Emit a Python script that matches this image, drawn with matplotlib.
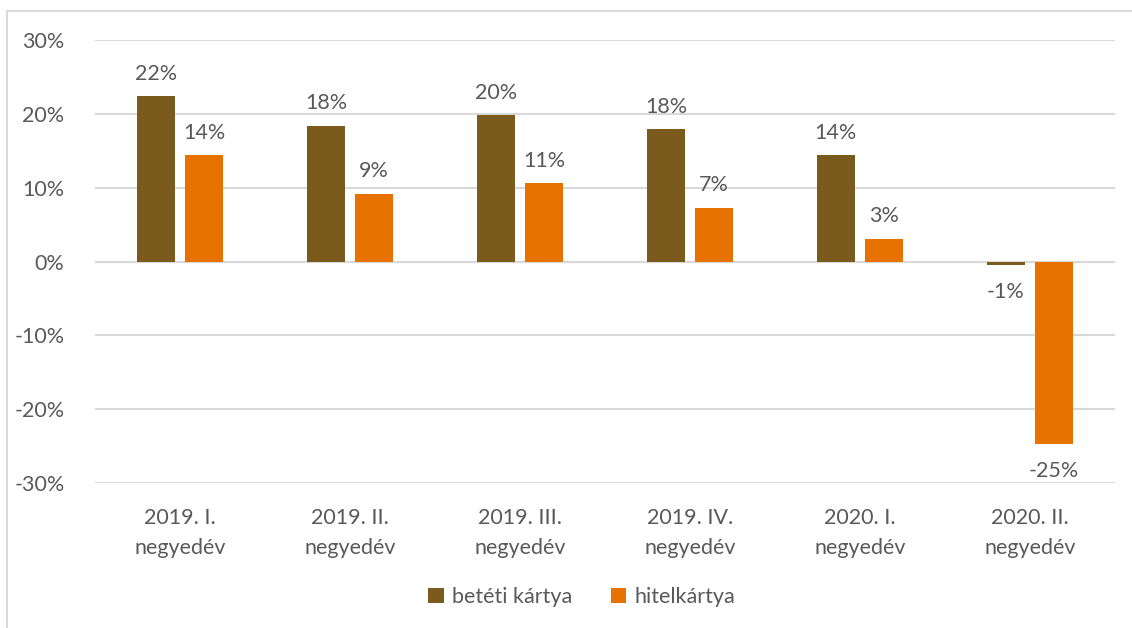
import matplotlib.pyplot as plt
from matplotlib.patches import Rectangle
import numpy as np

categories = ["2019. I.\nnegyedév", "2019. II.\nnegyedév", "2019. III.\nnegyedév",
              "2019. IV.\nnegyedév", "2020. I.\nnegyedév", "2020. II.\nnegyedév"]
beteti = [22.4, 18.4, 19.8, 17.9, 14.4, -0.5]
hitel = [14.4, 9.2, 10.6, 7.3, 3.1, -24.7]
beteti_labels = ["22%", "18%", "20%", "18%", "14%", "-1%"]
hitel_labels = ["14%", "9%", "11%", "7%", "3%", "-25%"]

BROWN = "#7B5A1E"
ORANGE = "#E87200"
TEXT = "#595959"
GRID = "#D9D9D9"

plt.rcParams['font.family'] = ['Lato', 'DejaVu Sans']

fig = plt.figure(figsize=(11.32, 6.28), dpi=100)
ax = fig.add_axes([95/1132, 1-483/628, (1115-95)/1132, (483-40)/628])

#outer chart border
fig.patches.append(Rectangle((7/1132, -0.1), 1.2, 1-11/628+0.1, transform=fig.transFigure,
                             fill=False, edgecolor=GRID, linewidth=1.5))

x = np.arange(len(categories))
w = 0.224
off = 0.142
b1 = ax.bar(x-off, beteti, w, color=BROWN, label="betéti kártya", zorder=3)
b2 = ax.bar(x+off, hitel, w, color=ORANGE, label="hitelkártya", zorder=3)

for bars, labels in ((b1, beteti_labels), (b2, hitel_labels)):
    for r, lab in zip(bars, labels):
        h = r.get_height()
        if h >= 0:
            ax.annotate(lab, (r.get_x()+r.get_width()/2, h), xytext=(0, 9), textcoords="offset points",
                        ha="center", va="bottom", fontsize=15.5, color=TEXT)
        else:
            ax.annotate(lab, (r.get_x()+r.get_width()/2, h), xytext=(0, -12), textcoords="offset points",
                        ha="center", va="top", fontsize=15.5, color=TEXT)

ax.set_xlim(-0.5, len(categories)-0.5)
ax.set_ylim(-30, 30)
ax.set_yticks(range(-30, 31, 10))
ax.set_yticklabels([f"{v}%" for v in range(-30, 31, 10)])
ax.set_xticks(x)
ax.set_xticklabels(categories, linespacing=1.6)
ax.tick_params(axis="both", length=0, labelsize=15.5, labelcolor=TEXT)
ax.tick_params(axis="y", pad=22)
ax.tick_params(axis="x", pad=18)
ax.grid(axis="y", color=GRID, linewidth=1.5, zorder=0)
ax.axhline(0, color=GRID, linewidth=1.5, zorder=1)
for s in ax.spines.values():
    s.set_visible(False)

leg = fig.legend(loc="center", bbox_to_anchor=(582/1132, 1-597/628), ncol=2, frameon=False,
                 fontsize=15.5, handlelength=0.7, handleheight=0.7, handletextpad=0.4, columnspacing=1.8)
for t in leg.get_texts():
    t.set_color(TEXT)

fig.savefig("out.png", dpi=100)
